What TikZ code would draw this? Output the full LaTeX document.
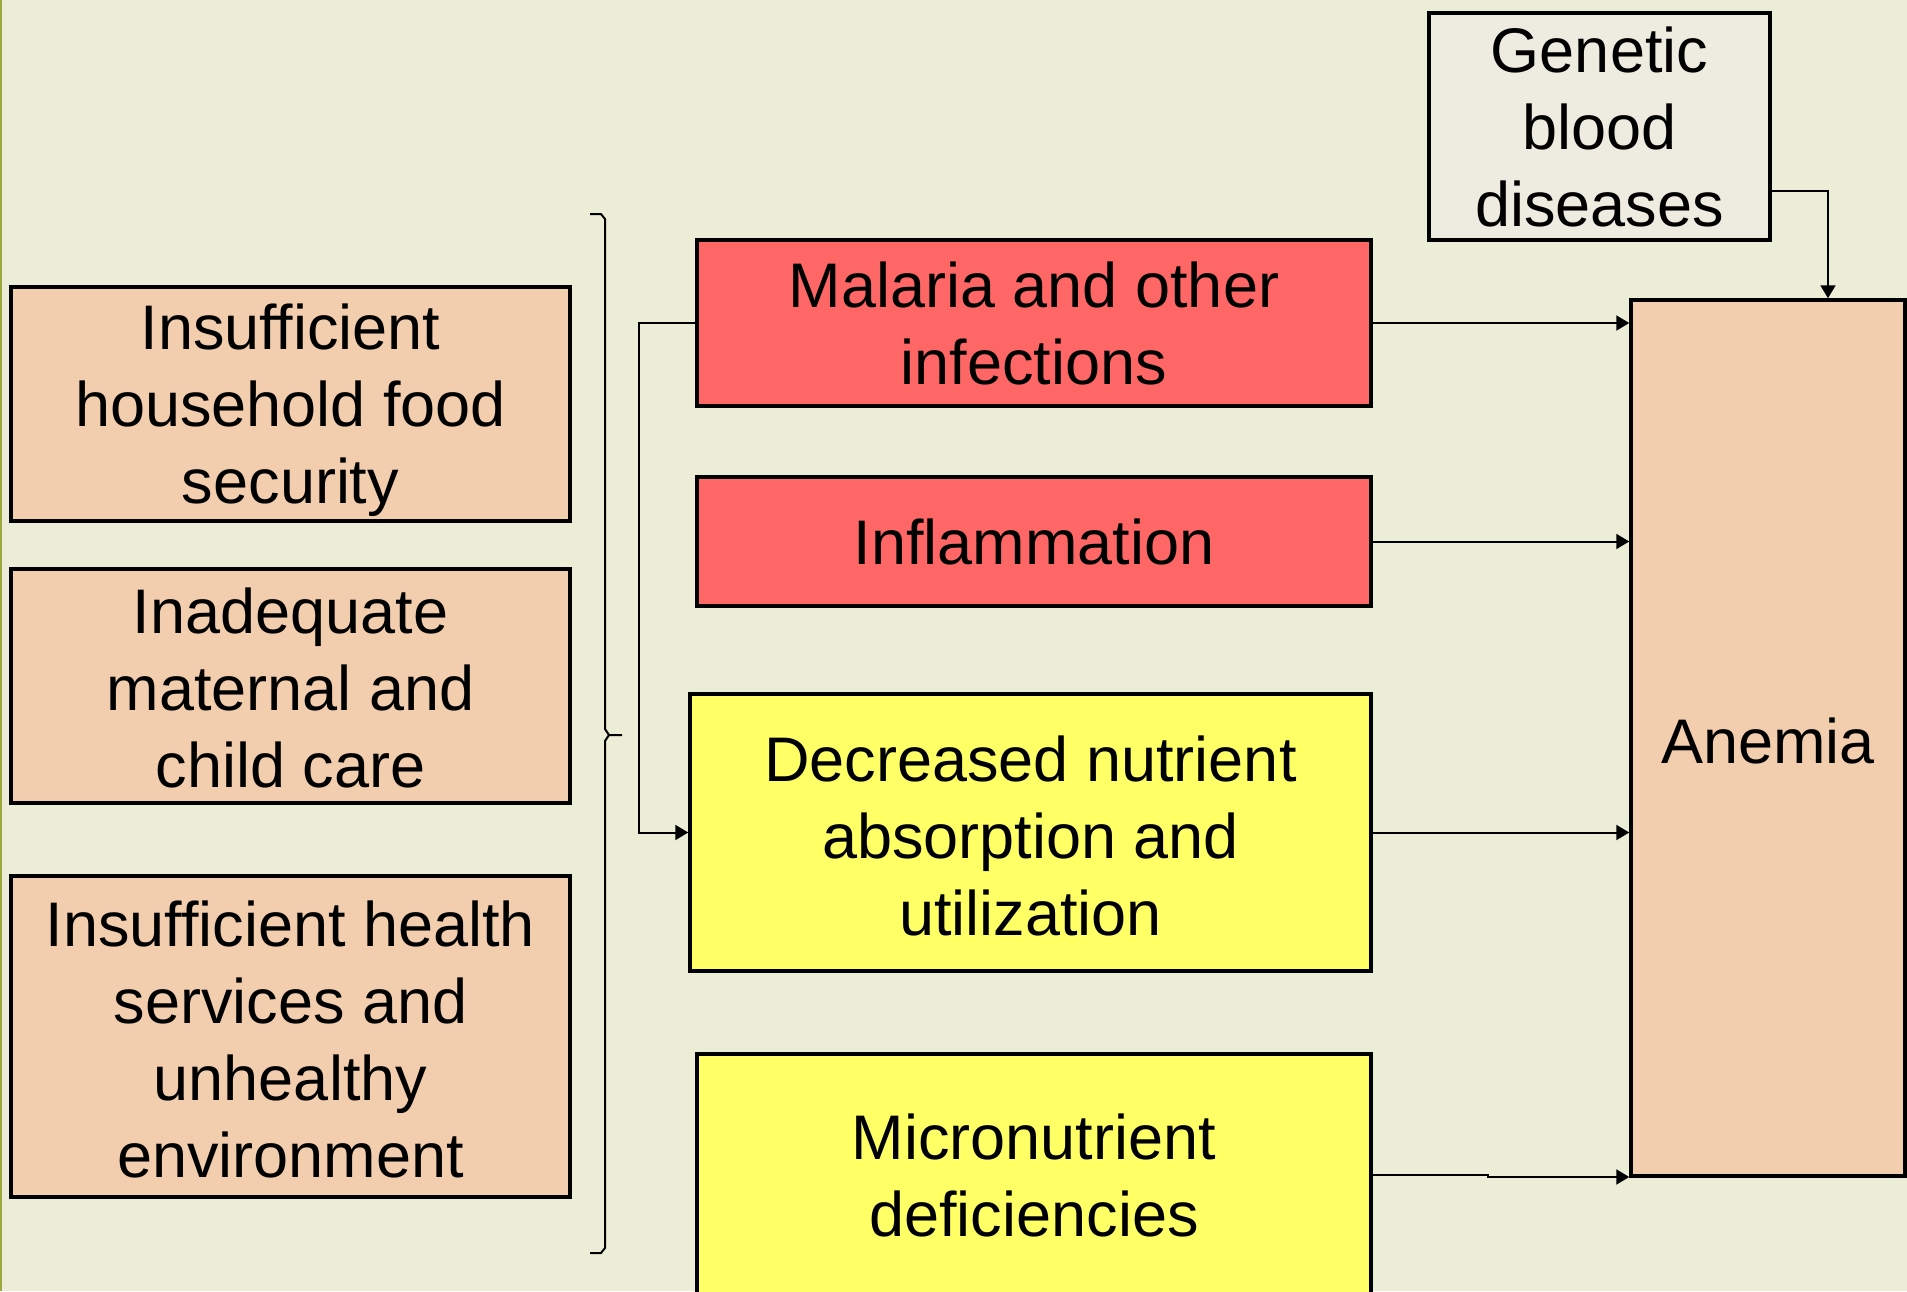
\documentclass[tikz,border=0pt]{standalone}
\usepackage{fontspec}
\setmainfont{Liberation Sans}
\usetikzlibrary{arrows.meta}
\definecolor{bg}{HTML}{EBEDD6}
\definecolor{peach}{HTML}{F2CDAE}
\definecolor{redbox}{HTML}{FF6666}
\definecolor{yelbox}{HTML}{FFFF66}
\definecolor{genbox}{HTML}{EEECE1}
\definecolor{edgegreen}{HTML}{9AAA3C}
\begin{document}
\begin{tikzpicture}[x=1pt,y=-1pt,
  box/.style={draw=black, line width=3.5pt, align=center, inner sep=0pt,
    font=\fontsize{63}{77}\selectfont},
  conn/.style={line width=2pt, -{Triangle[length=13pt,width=15pt]}},
  bracket/.style={line width=2pt}]
\useasboundingbox (0,0) rectangle (1907,1291);
\fill[bg] (0,0) rectangle (1907,1291);
\fill[edgegreen] (0,0) rectangle (2,1291);

\node[box, fill=peach, minimum width=559pt, minimum height=234pt] (ins) at (290.5,404)
  {\rule{0pt}{58pt}Insufficient\\household food\\security};
\node[box, fill=peach, minimum width=559pt, minimum height=234pt] (mat) at (290.5,686)
  {\rule{0pt}{50pt}Inadequate\\maternal and\\child care};
\node[box, fill=peach, minimum width=559pt, minimum height=321pt] (hea) at (290.5,1036.5)
  {\rule{0pt}{52pt}Insufficient health\\services and\\unhealthy\\environment};

\node[box, fill=redbox, minimum width=674pt, minimum height=166pt] (mal) at (1034,323)
  {Malaria and other\\infections};
\node[box, fill=redbox, minimum width=674pt, minimum height=129pt] (inf) at (1034,541.5)
  {Inflammation};
\node[box, fill=yelbox, minimum width=681pt, minimum height=277pt] (dec) at (1030.5,832.5)
  {\rule{0pt}{52pt}Decreased nutrient\\absorption and\\utilization};
\node[box, fill=yelbox, minimum width=674pt, minimum height=242pt] (mic) at (1034,1175)
  {Micronutrient\\deficiencies};
\node[box, fill=genbox, minimum width=341pt, minimum height=227pt] (gen) at (1599.5,126.5)
  {Genetic\\blood\\diseases};
\node[box, fill=peach, minimum width=274pt, minimum height=876pt] (ane) at (1768,738)
  {\rule{0pt}{52pt}Anemia};

\coordinate (gx) at (1828,0);
\coordinate (mx) at (1488,1177);

\draw[bracket] (590,214) -- (601,214) -- (605,219) -- (605,729) -- (609,735) -- (622,735)
  (609,735) -- (605,741) -- (605,1248) -- (601,1253) -- (590,1253);

\draw[conn] (mal.west) -- ++(-56,0) |- (dec.west);
\draw[conn] (mal.east) -- (mal.east -| ane.west);
\draw[conn] (inf.east) -- (inf.east -| ane.west);
\draw[conn] (dec.east) -- (dec.east -| ane.west);
\draw[conn] (mic.east) -- (mic.east -| mx) -- (mx) -- (mx -| ane.west);
\draw[conn] (gen.east) ++(0,64.5) -| (ane.north -| gx);
\end{tikzpicture}
\end{document}
